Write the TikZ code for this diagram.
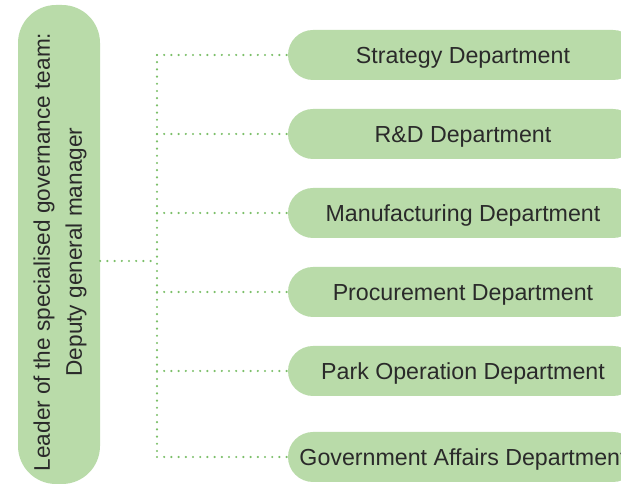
\documentclass[tikz,border=0pt]{standalone}
\usepackage{fontspec}
\setmainfont{Liberation Sans}
\definecolor{pillfill}{HTML}{B9DBA9}
\definecolor{dotgreen}{HTML}{7CBF69}
\definecolor{txt}{HTML}{2A2A2A}
\begin{document}
\begin{tikzpicture}[x=1pt,y=1pt,
  pill/.style={fill=pillfill,draw=none,rounded corners=25pt,minimum width=350pt,minimum height=50pt,
    text=txt,font=\fontsize{23.2}{28}\selectfont,inner sep=0pt,text height=16.5pt,text depth=0pt},
  leadbox/.style={fill=pillfill,draw=none,rounded corners=38pt,minimum width=82pt,minimum height=479pt,inner sep=0pt},
  leadtext/.style={text=txt,font=\fontsize{22.6}{32}\selectfont,align=center,rotate=90,inner sep=0pt},
  conn/.style={draw=dotgreen,line width=2.4pt,line cap=round,dash pattern=on 0pt off 7.2pt}]
\useasboundingbox (0,0) rectangle (621,484);
\clip (0,0) rectangle (621,484);
\node[leadbox] (lead) at (59,239.5) {};
\node[leadtext] (leadtxt) at (60,232) {Leader of the specialised governance team:\\Deputy general manager};
\node[pill] (d1) at (463,429) {Strategy Department};
\node[pill] (d2) at (463,350) {R\&D Department};
\node[pill] (d3) at (463,271) {Manufacturing Department};
\node[pill] (d4) at (463,192) {Procurement Department};
\node[pill] (d5) at (463,113) {Park Operation Department};
\node[pill] (d6) at (463,27) {Government Affairs Department};
\coordinate (j) at (157,223);
\draw[conn] (lead.east |- j) -- (j);
\draw[conn] (j |- d1.west) -- (j |- d6.west);
\foreach \d in {d1,d2,d3,d4,d5,d6}
  \draw[conn] (j |- \d.west) -- (\d.west);
\end{tikzpicture}
\end{document}
